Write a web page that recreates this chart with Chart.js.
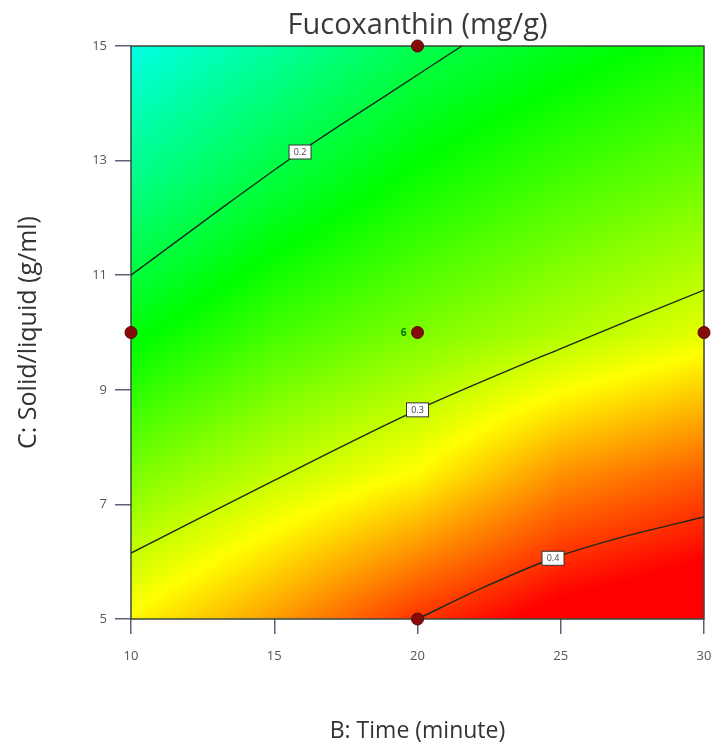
<!DOCTYPE html>
<html>
<head>
<meta charset="utf-8">
<script src="https://cdn.jsdelivr.net/npm/chart.js@4.4.1/dist/chart.umd.min.js"></script>
<style>
  body { margin: 0; background: #fff; }
  #wrap { width: 716px; height: 745px; }
</style>
</head>
<body>
<div id="wrap"><canvas id="fucoChart" width="716" height="745"></canvas></div>
<script>
// axis ticks
const timeTicks = [10, 15, 20, 25, 30];
const ratioTicks = [5, 7, 9, 11, 13, 15];

// response surface samples (rows = solid/liquid, cols = time)
const gridTime = [10, 15, 20, 25, 30];
const gridRatio = [5, 7.5, 10, 12.5, 15];
const surfaceValues = [
    [0.325, 0.360, 0.400, 0.430, 0.445],
    [0.272, 0.300, 0.325, 0.365, 0.385],
    [0.220, 0.250, 0.272, 0.292, 0.312],
    [0.175, 0.205, 0.232, 0.253, 0.270],
    [0.138, 0.165, 0.195, 0.215, 0.232]
];
const colourMin = 0.03;
const colourMax = 0.42;

// contour lines
const contourLevels = ['0.2', '0.3', '0.4'];
const contour02Time = [10, 13, 15.9, 19, 21.55];
const contour02Ratio = [11.0, 12.11, 13.15, 14.17, 15.0];
const contour03Time = [10, 15, 20, 25, 30];
const contour03Ratio = [6.15, 7.42, 8.65, 9.72, 10.74];
const contour04Time = [20, 22.3, 24.73, 27.3, 30];
const contour04Ratio = [5.0, 5.55, 6.06, 6.45, 6.78];
const contourLabelTime = [15.9, 20, 24.73];
const contourLabelRatio = [13.15, 8.65, 6.06];

// design points
const designTime = [10, 20, 30, 20, 20];
const designRatio = [10, 10, 10, 15, 5];
const centerReplicates = '6';

function toXY(xs, ys) {
    return xs.map((x, i) => ({ x: x, y: ys[i] }));
}

function findCell(arr, v) {
    let i = 0;
    while (i < arr.length - 2 && v > arr[i + 1]) i++;
    const t = (v - arr[i]) / (arr[i + 1] - arr[i]);
    return [i, Math.min(1, Math.max(0, t))];
}

function sampleSurface(xv, yv) {
    const [i, tx] = findCell(gridTime, xv);
    const [j, ty] = findCell(gridRatio, yv);
    const a = surfaceValues[j][i], b = surfaceValues[j][i + 1];
    const c = surfaceValues[j + 1][i], d = surfaceValues[j + 1][i + 1];
    return (a * (1 - tx) + b * tx) * (1 - ty) + (c * (1 - tx) + d * tx) * ty;
}

// blue -> cyan -> green -> yellow -> red
const stops = [[0, 0, 255], [0, 255, 255], [0, 255, 0], [255, 255, 0], [255, 0, 0]];
function colourFor(v) {
    let t = (v - colourMin) / (colourMax - colourMin);
    t = Math.min(1, Math.max(0, t)) * (stops.length - 1);
    const k = Math.min(stops.length - 2, Math.floor(t));
    const f = t - k;
    const p = stops[k], q = stops[k + 1];
    return [p[0] + (q[0] - p[0]) * f, p[1] + (q[1] - p[1]) * f, p[2] + (q[2] - p[2]) * f];
}

const surfacePlugin = {
    id: 'surface',
    beforeDatasetsDraw(chart) {
        const { ctx, chartArea: a, scales: { x, y } } = chart;
        const left = Math.round(a.left), top = Math.round(a.top);
        const w = Math.round(a.right) - left, h = Math.round(a.bottom) - top;
        const img = ctx.createImageData(w, h);
        for (let j = 0; j < h; j++) {
            const yv = y.getValueForPixel(top + j + 0.5);
            for (let i = 0; i < w; i++) {
                const xv = x.getValueForPixel(left + i + 0.5);
                const c = colourFor(sampleSurface(xv, yv));
                const o = (j * w + i) * 4;
                img.data[o] = c[0];
                img.data[o + 1] = c[1];
                img.data[o + 2] = c[2];
                img.data[o + 3] = 255;
            }
        }
        ctx.putImageData(img, left, top);

        ctx.save();
        ctx.strokeStyle = '#3a4a3a';
        ctx.lineWidth = 1.5;
        ctx.strokeRect(a.left, a.top, a.right - a.left, a.bottom - a.top);
        ctx.restore();
    },
    afterDatasetsDraw(chart) {
        const { ctx, scales: { x, y } } = chart;
        ctx.save();
        ctx.font = '9px "Open Sans"';
        ctx.textAlign = 'center';
        ctx.textBaseline = 'middle';
        contourLevels.forEach((lvl, i) => {
            const px = x.getPixelForValue(contourLabelTime[i]);
            const py = y.getPixelForValue(contourLabelRatio[i]);
            ctx.fillStyle = '#fff';
            ctx.fillRect(px - 11, py - 7, 22, 14);
            ctx.strokeStyle = '#333';
            ctx.lineWidth = 1;
            ctx.strokeRect(px - 11, py - 7, 22, 14);
            ctx.fillStyle = '#444';
            ctx.fillText(lvl, px, py + 0.5);
        });

        // replicate count beside the centre point
        ctx.font = 'bold 10px "Open Sans"';
        ctx.fillStyle = '#0b6a12';
        ctx.textAlign = 'right';
        ctx.fillText(centerReplicates, x.getPixelForValue(20) - 11, y.getPixelForValue(10) + 1);
        ctx.restore();
    }
};

const ctx = document.getElementById('fucoChart').getContext('2d');
const lineStyle = {
    showLine: true,
    pointRadius: 0,
    borderColor: '#1c2a1c',
    borderWidth: 1.4,
    tension: 0.3,
    order: 1
};

new Chart(ctx, {
    type: 'scatter',
    data: {
        datasets: [
            Object.assign({ label: '0.2', data: toXY(contour02Time, contour02Ratio) }, lineStyle),
            Object.assign({ label: '0.3', data: toXY(contour03Time, contour03Ratio) }, lineStyle),
            Object.assign({ label: '0.4', data: toXY(contour04Time, contour04Ratio) }, lineStyle),
            {
                label: 'Design points',
                data: toXY(designTime, designRatio),
                pointRadius: 6,
                backgroundColor: '#860c0c',
                borderColor: '#5c0202',
                borderWidth: 1,
                clip: false,
                order: 0
            }
        ]
    },
    options: {
        responsive: false,
        animation: false,
        events: [],
        layout: { padding: { left: 0, right: 12, top: 0, bottom: 0 } },
        plugins: {
            legend: { display: false },
            tooltip: { enabled: false },
            title: {
                display: true,
                fullSize: false,
                text: 'Fucoxanthin (mg/g)',
                color: '#3a3a3a',
                font: { family: 'Open Sans', size: 29, weight: 'normal' },
                padding: { top: 8, bottom: 3.2 }
            }
        },
        scales: {
            x: {
                type: 'linear',
                min: 10,
                max: 30,
                afterBuildTicks: axis => { axis.ticks = timeTicks.map(v => ({ value: v })); },
                afterFit: scale => {
                    scale.height = 126;
                    scale.paddingRight = 12;
                },
                grid: { drawOnChartArea: false, tickLength: 15, color: '#5b6275', lineWidth: 1.5 },
                border: { display: false },
                ticks: { padding: 14, color: '#555', font: { family: 'Open Sans', size: 13 } },
                title: {
                    display: true,
                    text: 'B: Time (minute)',
                    color: '#333',
                    font: { family: 'Open Sans', size: 23 },
                    padding: { top: 0, bottom: 0 }
                }
            },
            y: {
                type: 'linear',
                min: 5,
                max: 15,
                afterBuildTicks: axis => { axis.ticks = ratioTicks.map(v => ({ value: v })); },
                afterFit: scale => { scale.width = 131; },
                grid: { drawOnChartArea: false, tickLength: 16, color: '#5b6275', lineWidth: 1.5 },
                border: { display: false },
                ticks: { padding: 8, color: '#555', font: { family: 'Open Sans', size: 13 } },
                title: {
                    display: true,
                    text: 'C: Solid/liquid (g/ml)',
                    color: '#333',
                    font: { family: 'Open Sans', size: 25 },
                    padding: { top: 14, bottom: 0 }
                }
            }
        }
    },
    plugins: [surfacePlugin]
});
</script>
</body>
</html>
